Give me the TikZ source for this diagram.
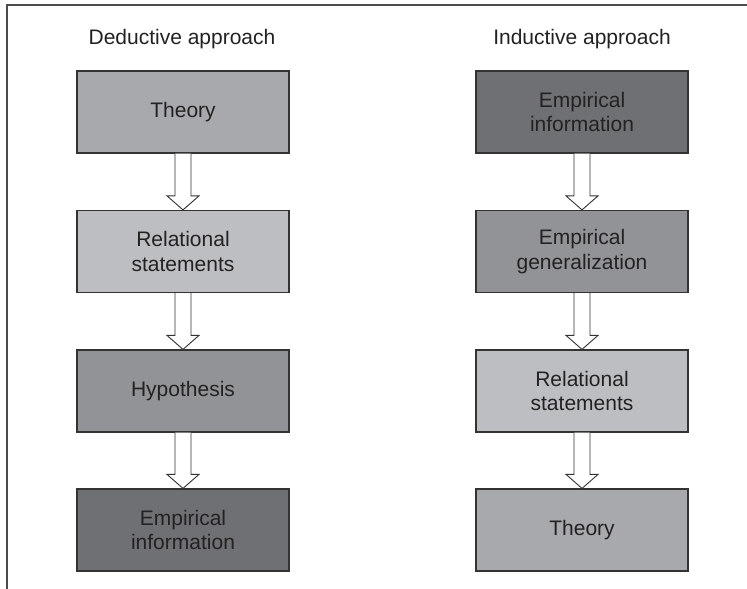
\documentclass[tikz,border=0pt]{standalone}
\usepackage{fontspec}
\setmainfont{Liberation Sans}
\usetikzlibrary{calc}
\definecolor{boxline}{HTML}{333333}
\definecolor{txt}{HTML}{222222}
\definecolor{gA}{HTML}{6F7073}
\definecolor{gB}{HTML}{929396}
\definecolor{gC}{HTML}{A8A9AC}
\definecolor{gD}{HTML}{BDBEC1}
\tikzset{
  stage/.style={draw=boxline,line width=1.2pt,minimum width=212pt,minimum height=82pt,
    align=center,text=txt,font=\fontsize{21}{24.5}\selectfont},
  heading/.style={anchor=base,text=txt,font=\fontsize{21}{24.5}\selectfont},
  hollow/.style={draw=boxline,line width=0.9pt,fill=white,line join=miter}
}
\newcommand*{\hollowarrow}[2]{%
  \draw[hollow] ($(#1.south)+(-8,0)$) -- ($(#2.north)+(-8,-14)$)
    -- ($(#2.north)+(-16,-14)$) -- (#2.north) -- ($(#2.north)+(16,-14)$)
    -- ($(#2.north)+(8,-14)$) -- ($(#1.south)+(8,0)$);}

\begin{document}
\begin{tikzpicture}[x=1pt,y=-1pt]
\useasboundingbox (0,0) rectangle (747,589);
\draw[gray!60!black,line width=1.3pt] (7,589) -- (7,5) -- (747,5);
% deductive side
\node[heading] (dhead) at (182,44) {Deductive approach};
\node[stage,fill=gC] (dtheory) at (183,112) {Theory};
\node[stage,fill=gD] (drel) at (183,251.5) {Relational\\statements};
\node[stage,fill=gB] (dhyp) at (183,391) {Hypothesis};
\node[stage,fill=gA] (demp) at (183,530) {Empirical\\information};
\hollowarrow{dtheory}{drel}
\hollowarrow{drel}{dhyp}
\hollowarrow{dhyp}{demp}
% inductive side
\node[heading] (ihead) at (582,44) {Inductive approach};
\node[stage,fill=gA] (iemp) at (582,112) {Empirical\\information};
\node[stage,fill=gB] (igen) at (582,251.5) {Empirical\\generalization};
\node[stage,fill=gD] (irel) at (582,391) {Relational\\statements};
\node[stage,fill=gC] (itheory) at (582,530) {Theory};
\hollowarrow{iemp}{igen}
\hollowarrow{igen}{irel}
\hollowarrow{irel}{itheory}
\end{tikzpicture}
\end{document}
